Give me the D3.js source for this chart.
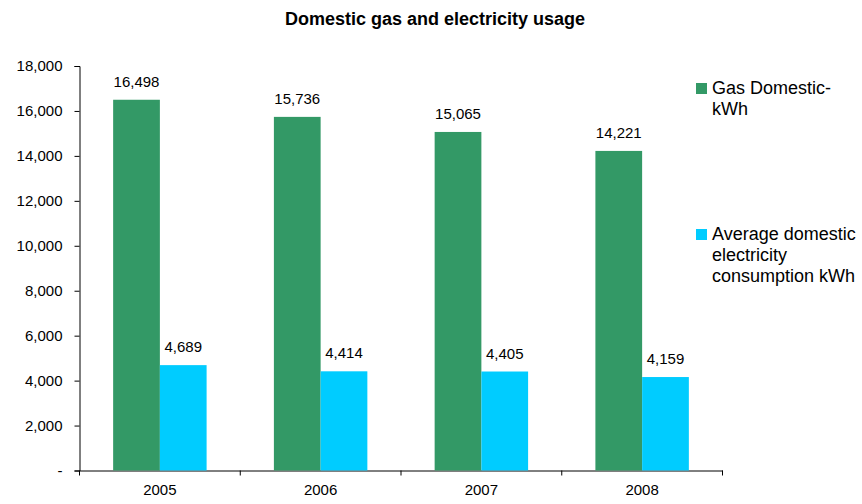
<!DOCTYPE html>
<html><head><meta charset="utf-8">
<script src="https://cdn.jsdelivr.net/npm/d3@7"></script>
<style>body{margin:0;background:#fff}svg{display:block}text{font-family:"Liberation Sans",Arial,sans-serif;fill:#000}</style>
</head><body><svg id="c" width="862" height="504"></svg>
<script>
const categories = ["2005","2006","2007","2008"];
const gasValues = [16498,15736,15065,14221];
const elecValues = [4689,4414,4405,4159];
const seriesNames = ["Gas Domestic-kWh","Average domestic electricity consumption kWh"];
const yTicks = [0,2000,4000,6000,8000,10000,12000,14000,16000,18000];
const colors = ["#339966","#00CCFF"];

const svg = d3.select("#c");
const mLeft = 79.5, mRight = 722.5, mTop = 66, mBottom = 470.5;
const x = d3.scaleBand().domain(categories).range([mLeft,mRight]).paddingInner(0).paddingOuter(0);
const y = d3.scaleLinear().domain([0,18000]).range([mBottom,mTop]);
const fmt = d3.format(",");

svg.append("text").attr("x",435).attr("y",25).attr("text-anchor","middle")
  .attr("font-weight","bold").attr("font-size",18).text("Domestic gas and electricity usage");

const yAxis = svg.append("g").attr("transform",`translate(${mLeft},0)`)
  .call(d3.axisLeft(y).tickValues(yTicks).tickSize(5).tickPadding(12).tickFormat(d=>d===0?"-":fmt(d)));
yAxis.attr("font-size",15).attr("font-family",null);
yAxis.selectAll("path,line").attr("stroke","#000");

const xAxis = svg.append("g").attr("transform",`translate(0,${mBottom})`)
  .call(d3.axisBottom(x).tickSize(0).tickPadding(14));
xAxis.attr("font-size",15).attr("font-family",null);
xAxis.select(".domain").attr("stroke","#000");
const bounds = categories.map(c=>x(c)).concat([mRight]);
svg.append("g").selectAll("line").data(bounds).join("line")
  .attr("x1",d=>d).attr("x2",d=>d).attr("y1",mBottom).attr("y2",mBottom+5).attr("stroke","#000");

const inner = d3.scaleBand().domain([0,1]).range([0,x.bandwidth()]).paddingOuter(0.72).paddingInner(0);
const data = [gasValues, elecValues];
data.forEach((vals,si)=>{
  const g = svg.append("g");
  g.selectAll("rect").data(vals).join("rect")
    .attr("x",(d,i)=>x(categories[i])+inner(si)).attr("width",inner.bandwidth())
    .attr("y",d=>y(d)).attr("height",d=>mBottom-y(d)).attr("fill",colors[si]);
  g.selectAll("text").data(vals).join("text")
    .attr("x",(d,i)=>x(categories[i])+inner(si)+inner.bandwidth()/2)
    .attr("y",d=>y(d)-13).attr("text-anchor","middle").attr("font-size",15).text(d=>fmt(d));
});

const legendLines = [["Gas Domestic-","kWh"],["Average domestic","electricity","consumption kWh"]];
const legendY = [83,229];
legendLines.forEach((lines,i)=>{
  svg.append("rect").attr("x",696).attr("y",legendY[i]).attr("width",11).attr("height",11).attr("fill",colors[i]);
  lines.forEach((t,j)=>{
    svg.append("text").attr("x",712).attr("y",legendY[i]+11+j*21).attr("font-size",18).text(t);
  });
});
</script></body></html>
